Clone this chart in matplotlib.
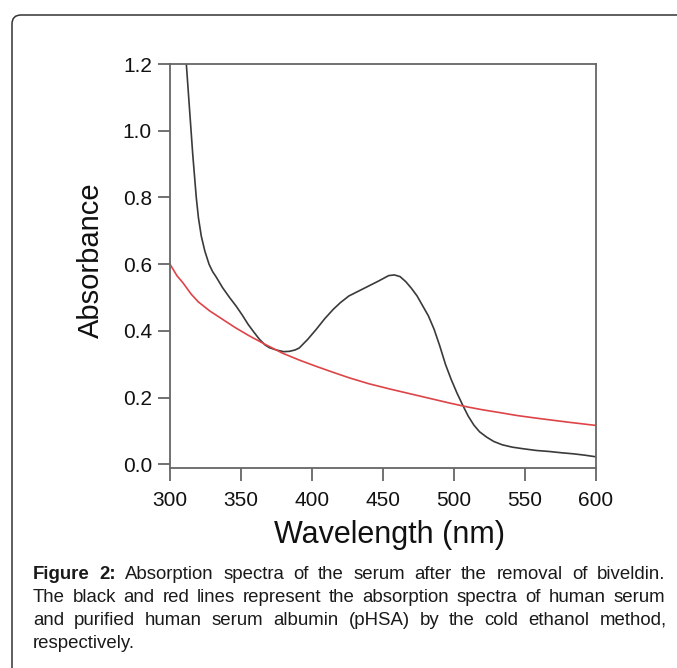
import matplotlib
matplotlib.use("Agg")
import matplotlib.pyplot as plt
from matplotlib.patches import FancyBboxPatch
from matplotlib.transforms import IdentityTransform

plt.rcParams['font.family'] = ['Liberation Sans', 'DejaVu Sans']

# ---- data ----
serum_wl = [311.5, 313.5, 316, 318.5, 320, 322, 324.5, 327.5, 330, 332.5, 337, 342, 346.5, 351,
            355, 359, 363, 367, 370, 375, 380, 384, 388, 391, 397, 403, 409, 415, 420, 426, 433,
            440, 447, 454, 458, 462, 466, 470, 474, 478, 482, 486, 490, 494, 498, 502, 506, 510,
            514, 518, 523, 528, 534, 541, 549, 558, 567, 576, 584, 592, 600]
serum_abs = [1.2, 1.08, 0.93, 0.80, 0.74, 0.685, 0.64, 0.60, 0.578, 0.562, 0.53, 0.50, 0.475,
             0.447, 0.42, 0.397, 0.375, 0.358, 0.35, 0.343, 0.338, 0.339, 0.343, 0.349, 0.375,
             0.405, 0.437, 0.465, 0.485, 0.505, 0.52, 0.535, 0.55, 0.566, 0.568, 0.563, 0.548,
             0.528, 0.505, 0.475, 0.445, 0.405, 0.355, 0.30, 0.255, 0.215, 0.179, 0.145, 0.118,
             0.098, 0.082, 0.069, 0.059, 0.052, 0.047, 0.042, 0.039, 0.035, 0.032, 0.028, 0.023]

phsa_wl = [300, 305, 309, 315, 320, 328, 337, 346, 356, 367, 379, 391, 403, 415, 426, 440, 455,
           470, 485, 497, 510, 520, 533, 544, 556, 567, 580, 590, 600]
phsa_abs = [0.6, 0.565, 0.545, 0.51, 0.487, 0.46, 0.435, 0.41, 0.385, 0.36, 0.334, 0.313, 0.294,
            0.276, 0.26, 0.242, 0.226, 0.211, 0.196, 0.184, 0.172, 0.164, 0.155, 0.147, 0.14,
            0.134, 0.127, 0.122, 0.117]

x_ticks = [300, 350, 400, 450, 500, 550, 600]
y_ticks = [0.0, 0.2, 0.4, 0.6, 0.8, 1.0, 1.2]
y_tick_labels = ["0.0", "0.2", "0.4", "0.6", "0.8", "1.0", "1.2"]

caption_lines = [
    "Figure 2: Absorption spectra of the serum after the removal of biveldin.",
    "The black and red lines represent the absorption spectra of human serum",
    "and purified human serum albumin (pHSA) by the cold ethanol method,",
    "respectively.",
]

W, H = 677, 668
fig = plt.figure(figsize=(W / 100, H / 100), dpi=100)
fig.patch.set_facecolor('white')

# rounded frame
frame = FancyBboxPatch((12, -30), 720, H - 15 + 30, boxstyle="round,pad=0,rounding_size=9",
                       transform=IdentityTransform(), facecolor='none', edgecolor='#333333',
                       linewidth=1.1)
fig.patches.append(frame)

ax = fig.add_axes([170 / W, 1 - 468.3 / H, (596 - 170) / W, (468.3 - 64) / H])
ax.plot(serum_wl, serum_abs, color='#3a3a3a', linewidth=1.2)
ax.plot(phsa_wl, phsa_abs, color='#dd4448', linewidth=1.2)
ax.set_xlim(300, 600)
ax.set_ylim(-0.0114, 1.2)
ax.set_xticks(x_ticks)
ax.set_yticks(y_ticks)
ax.set_yticklabels(y_tick_labels)
for s in ax.spines.values():
    s.set_color('#666666')
    s.set_linewidth(1.3)
ax.tick_params(axis='both', direction='out', length=9, width=1.3, color='#666666',
               labelsize=15, labelcolor='#111111')
ax.tick_params(axis='x', pad=7)
ax.tick_params(axis='y', pad=4)
ax.set_xlabel("Wavelength (nm)", fontsize=22, color='#111111')
ax.set_ylabel("Absorbance", fontsize=21, color='#111111')
ax.xaxis.set_label_coords(0.515, -0.127)
ax.yaxis.set_label_coords(-0.153, 0.515)

# justified caption (words placed individually; trailing commas drawn separately)
renderer = fig.canvas.get_renderer()
left_px, right_px = 33, 665
fs = 13.4
base_y = [579, 602, 625, 648]
for i, line in enumerate(caption_lines):
    words = line.split(' ')
    y = 1 - base_y[i] / H
    groups = []
    for j, wd in enumerate(words):
        bold = (i == 0 and j < 2)
        weight = 'bold' if bold else 'normal'
        parts = [wd[:-1], ','] if (wd.endswith(',') and len(wd) > 1) else [wd]
        grp = []
        for k, p in enumerate(parts):
            t = fig.text(0, y, p, fontsize=fs, fontweight=weight,
                         color='#1a1a1a', va='baseline', ha='left')
            w = t.get_window_extent(renderer).width
            if len(parts) > 1 and k == 0:
                w -= 1.5
            grp.append((t, w))
        groups.append(grp)
    widths = [sum(w for _, w in g) for g in groups]
    if i < len(caption_lines) - 1 and len(words) > 1:
        gap = (right_px - left_px - sum(widths)) / (len(words) - 1)
    else:
        gap = fs * 100 / 72 * 0.278
    x = left_px
    for g in groups:
        for t, w in g:
            t.set_x(x / W)
            x += w
        x += gap

fig.savefig("out.png", dpi=100)
